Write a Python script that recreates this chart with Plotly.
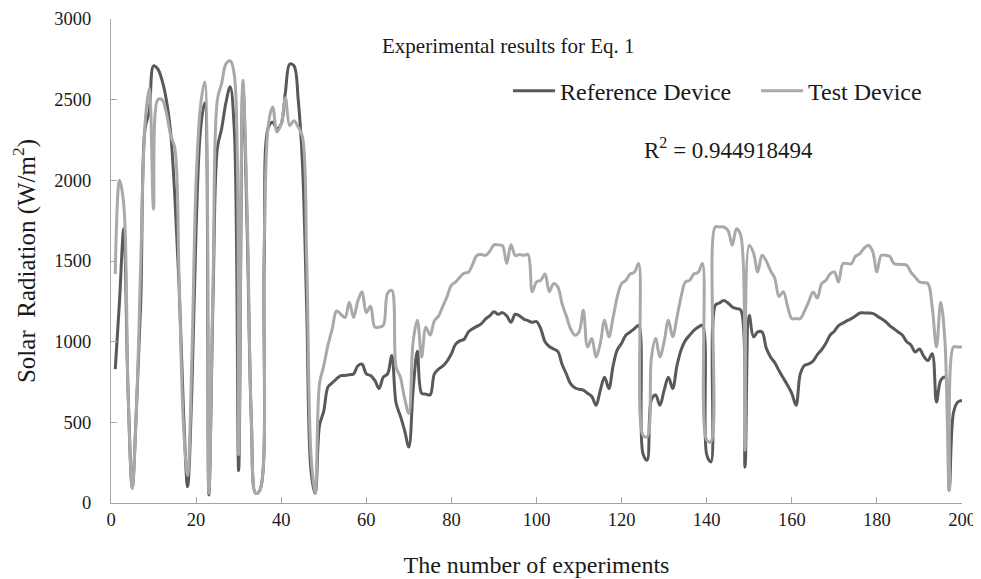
import plotly.graph_objects as go

experiments = list(range(1, 201))

reference_device = [
    830, 1250, 1700, 700, 95, 600, 1250, 2320, 2430, 2710,
    2690, 2620, 2500, 2300, 1900, 1350, 600, 100, 700, 1700,
    2300, 2480, 50, 1300, 2200, 2320, 2480, 2580, 2300, 200,
    2580, 1700, 500, 60, 80, 1500, 2330, 2360, 2320, 2350,
    2550, 2720, 2710, 2500, 2100, 1200, 200, 60, 480, 570,
    720, 745, 770, 790, 790, 795, 800, 850, 860, 800,
    790, 760, 710, 780, 800, 915, 620, 540, 450, 347,
    700, 940, 680, 675, 670, 800, 830, 850, 880, 925,
    985, 1005, 1015, 1060, 1080, 1095, 1110, 1140, 1160, 1185,
    1170, 1180, 1160, 1120, 1170, 1160, 1140, 1130, 1120, 1125,
    1080, 1000, 970, 955, 940, 860, 800, 740, 715, 705,
    700, 680, 660, 606, 700, 780, 710, 850, 950, 990,
    1040, 1060, 1080, 1100, 308, 265, 640, 670, 606, 700,
    780, 710, 850, 950, 1008, 1040, 1070, 1090, 1100, 300,
    255, 1225, 1240, 1255, 1240, 1215, 1205, 1195, 223, 1163,
    1030, 1060, 1060, 960, 905, 870, 820, 775, 730, 680,
    606, 800, 853, 862, 880, 920, 950, 990, 1040, 1065,
    1100, 1115, 1130, 1143, 1160, 1178, 1178, 1178, 1175, 1160,
    1143, 1125, 1100, 1080, 1060, 1040, 1000, 980, 936, 955,
    910, 883, 925, 626, 760, 780, 79, 560, 626, 636,
]

test_device = [
    1420, 2000, 1850, 700, 90, 600, 1500, 2350, 2570, 1820,
    2500, 2500, 2420, 2280, 2200, 1400, 500, 170, 900, 2000,
    2450, 2610, 60, 1400, 2500, 2600, 2720, 2740, 2650, 300,
    2620, 1800, 500, 60, 80, 1600, 2350, 2455, 2300, 2350,
    2510, 2340, 2370, 2330, 2270, 1500, 300, 60, 740, 850,
    980, 1080, 1190, 1170, 1150, 1245, 1150, 1250, 1310, 1180,
    1220, 1090, 1090, 1100, 1300, 1318, 843, 780, 650, 555,
    1000, 1133, 905, 1090, 1040, 1130, 1160, 1220, 1280, 1350,
    1370, 1400, 1425, 1430, 1480, 1535, 1540, 1535, 1560, 1600,
    1600, 1595, 1485, 1600, 1535, 1540, 1535, 1540, 1310, 1370,
    1380, 1420, 1310, 1360, 1340, 1236, 1160, 1080, 1040, 1060,
    1195, 967, 1020, 905, 990, 1133, 1030, 1150, 1280, 1360,
    1380, 1420, 1430, 1484, 420, 410, 900, 1020, 905, 1000,
    1133, 1030, 1150, 1280, 1370, 1380, 1420, 1430, 1484, 390,
    380, 1711, 1711, 1711, 1690, 1598, 1700, 1660, 327, 1598,
    1550, 1432, 1535, 1500, 1440, 1393, 1280, 1310, 1220, 1143,
    1143, 1143, 1190, 1250, 1308, 1270, 1360, 1380, 1420, 1432,
    1370, 1484, 1484, 1484, 1530, 1546, 1580, 1598, 1560, 1432,
    1535, 1535, 1530, 1484, 1480, 1478, 1474, 1430, 1400, 1370,
    1365, 1360, 1215, 967, 1245, 1000, 79, 967, 967, 967,
]

x_ticks = [0, 20, 40, 60, 80, 100, 120, 140, 160, 180, 200]
y_ticks = [0, 500, 1000, 1500, 2000, 2500, 3000]

FONT = "Liberation Serif"
TXT = "#1a1a1a"

fig = go.Figure()
fig.add_trace(go.Scatter(
    x=experiments, y=reference_device, name="Reference Device", mode="lines",
    line=dict(color="#595959", width=3, shape="spline", smoothing=1.0),
    legend="legend",
))
fig.add_trace(go.Scatter(
    x=experiments, y=test_device, name="Test Device", mode="lines",
    line=dict(color="#a9a9a9", width=3, shape="spline", smoothing=1.0),
    legend="legend2",
))

legend_common = dict(
    orientation="h", y=0.851, xanchor="left", yanchor="middle",
    font=dict(family=FONT, size=24, color=TXT),
    itemwidth=42, bgcolor="rgba(0,0,0,0)",
)

# page body has an 8px margin, so the figure is 8px smaller than the window
fig.update_layout(
    width=973, height=571,
    margin=dict(l=103, r=19, t=11, b=76, autoexpand=False),
    paper_bgcolor="white", plot_bgcolor="white",
    font=dict(family=FONT, color=TXT, size=18),
    showlegend=True,
    legend=dict(x=0.4665, **legend_common),
    legend2=dict(x=0.758, **legend_common),
    annotations=[
        dict(text="Experimental results for Eq. 1", x=0.467, y=0.945, xref="paper", yref="paper",
             showarrow=False, xanchor="center", yanchor="middle",
             font=dict(family=FONT, size=21, color=TXT)),
        dict(text="R<sup>2</sup> = 0.944918494", x=0.624, y=0.733, xref="paper", yref="paper",
             showarrow=False, xanchor="left", yanchor="middle",
             font=dict(family=FONT, size=23, color=TXT)),
    ],
)

fig.update_xaxes(
    range=[0, 200], tickvals=x_ticks, ticktext=[str(v) for v in x_ticks],
    showline=True, linecolor="#a6a6a6", linewidth=1,
    ticks="inside", ticklen=6, tickcolor="#a6a6a6",
    showgrid=False, zeroline=False, automargin=False,
    tickfont=dict(family=FONT, size=18.5, color=TXT),
    title=dict(text="The number of experiments", font=dict(family=FONT, size=24, color=TXT), standoff=26),
)
fig.update_yaxes(
    range=[0, 3000], tickvals=y_ticks, ticktext=[str(v) for v in y_ticks],
    showline=True, linecolor="#a6a6a6", linewidth=1,
    ticks="inside", ticklen=6, tickcolor="#a6a6a6",
    showgrid=False, zeroline=False, automargin=False,
    tickfont=dict(family=FONT, size=18.5, color=TXT), ticklabelstandoff=15,
    title=dict(text="Solar  Radiation (W/m<sup>2</sup>)", font=dict(family=FONT, size=25, color=TXT), standoff=16),
)

fig.write_html("out.html")
